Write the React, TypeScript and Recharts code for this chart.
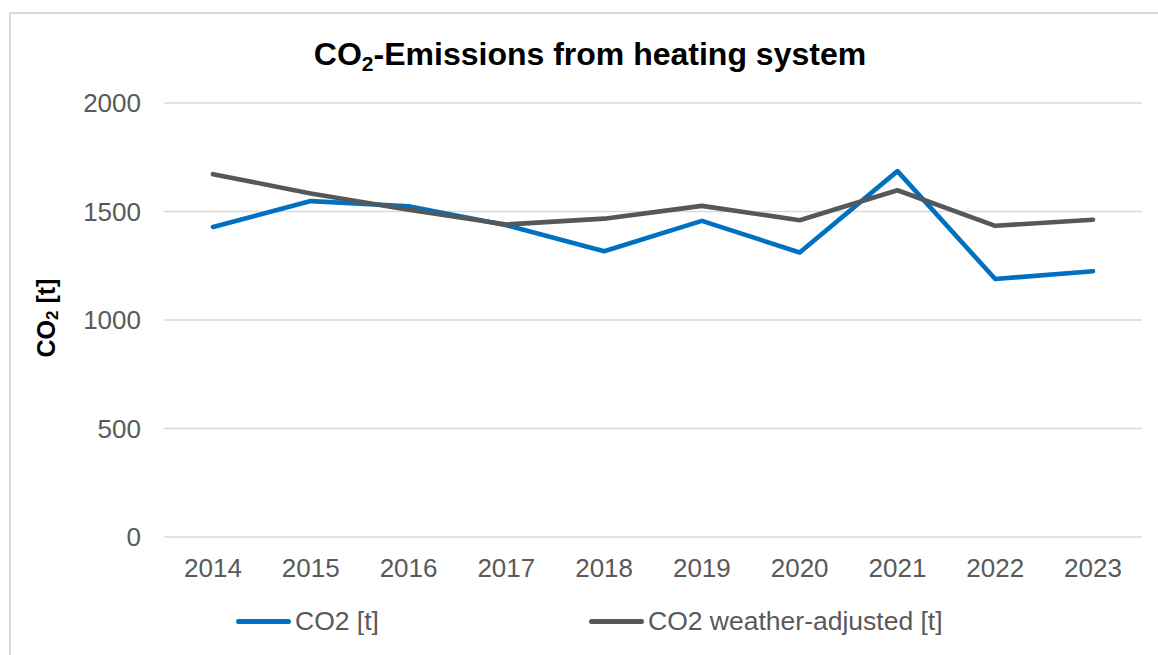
import React from "react";
import { LineChart, Line, XAxis, YAxis, CartesianGrid, Legend } from "recharts";

const years = ["2014", "2015", "2016", "2017", "2018", "2019", "2020", "2021", "2022", "2023"];
const co2 = [1429, 1548, 1524, 1437, 1317, 1457, 1311, 1686, 1189, 1225];
const co2Adjusted = [1672, 1583, 1508, 1440, 1467, 1526, 1460, 1598, 1434, 1462];
const yTicks = [0, 500, 1000, 1500, 2000];

const seriesNames = { co2: "CO2 [t]", adj: "CO2 weather-adjusted [t]" };
const BLUE = "#0070C0";
const GRAY = "#54585A";
const FONT = "'Liberation Sans', Arial, sans-serif";

const data = years.map((y, i) => ({ year: y, co2: co2[i], adj: co2Adjusted[i] }));

const YLabel = () => (
  <text
    x={46}
    y={318}
    transform="rotate(-90 46 318)"
    textAnchor="middle"
    dominantBaseline="central"
    fontFamily={FONT}
    fontWeight="bold"
    fontSize={25}
    fill="#000"
  >
    CO
    <tspan fontSize={17} dy={6}>2</tspan>
    <tspan dy={-6}> [t]</tspan>
  </text>
);

const LegendContent = (props: any) => {
  const payload = props.payload || [];
  const widths = [353, 420];
  return (
    <div style={{ display: "flex", paddingLeft: 236, fontFamily: FONT, fontSize: 26.5, color: "#595959" }}>
      {payload.map((p: any, i: number) => (
        <div key={i} style={{ display: "flex", alignItems: "center", width: widths[i] }}>
          <div style={{ width: 55, height: 5, borderRadius: 3, background: p.color, marginRight: 4 }} />
          <span style={{ lineHeight: "30px" }}>{p.value}</span>
        </div>
      ))}
    </div>
  );
};

export default function App() {
  return (
    <div style={{ position: "absolute", left: 0, top: 0, width: 1158, height: 655, background: "#fff", overflow: "hidden" }}>
      <div
        style={{
          position: "absolute",
          left: 9,
          top: 12,
          width: 1200,
          height: 700,
          border: "2px solid #d9d9d9",
          boxSizing: "border-box",
        }}
      />
      <div
        style={{
          position: "absolute",
          left: 0,
          width: 1180,
          top: 38,
          textAlign: "center",
          fontFamily: FONT,
          fontWeight: "bold",
          fontSize: 32,
          lineHeight: "32px",
          color: "#000",
        }}
      >
        CO<sub style={{ fontSize: 21, verticalAlign: "-6px", lineHeight: 0 }}>2</sub>-Emissions from heating system
      </div>
      <div style={{ position: "absolute", left: 0, top: 0 }}>
        <LineChart width={1158} height={655} data={data} margin={{ top: 103, right: 16, bottom: 78, left: 84 }}>
          <CartesianGrid vertical={false} stroke="#d9d9d9" strokeWidth={1.3} />
          <XAxis
            dataKey="year"
            axisLine={false}
            tickLine={false}
            height={40}
            tickMargin={16}
            padding={{ left: 49, right: 49 }}
            tick={{ fill: "#595959", fontSize: 26, fontFamily: FONT }}
            interval={0}
          />
          <YAxis
            width={80}
            domain={[0, 2000]}
            ticks={yTicks}
            axisLine={false}
            tickLine={false}
            tickMargin={17}
            tick={{ fill: "#595959", fontSize: 26, fontFamily: FONT }}
            label={<YLabel />}
          />
          <Legend
            verticalAlign="middle"
            align="center"
            layout="horizontal"
            content={<LegendContent />}
            wrapperStyle={{ position: "absolute", top: 606, left: 0, width: 1158, height: 30 }}
          />
          <Line
            type="linear"
            dataKey="co2"
            name={seriesNames.co2}
            stroke={BLUE}
            strokeWidth={4.6}
            dot={false}
            activeDot={false}
            strokeLinecap="round"
            strokeLinejoin="round"
            isAnimationActive={false}
          />
          <Line
            type="linear"
            dataKey="adj"
            name={seriesNames.adj}
            stroke={GRAY}
            strokeWidth={4.6}
            dot={false}
            activeDot={false}
            strokeLinecap="round"
            strokeLinejoin="round"
            isAnimationActive={false}
          />
        </LineChart>
      </div>
    </div>
  );
}
